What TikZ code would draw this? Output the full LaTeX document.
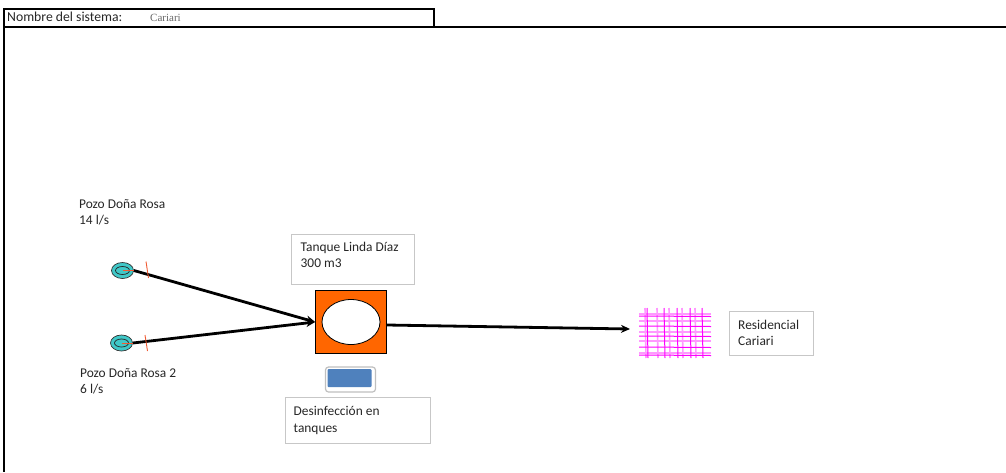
\documentclass[tikz,border=0pt]{standalone}
\usepackage{fontspec}
\setmainfont{Carlito}
\newfontfamily\serifname{Liberation Serif}
\usetikzlibrary{arrows.meta,shapes.geometric,calc}
\definecolor{wellteal}{RGB}{64,200,200}
\definecolor{tankorange}{RGB}{255,102,0}
\definecolor{tickred}{RGB}{240,90,50}
\definecolor{btnblue}{RGB}{79,129,189}
\definecolor{gridpink}{RGB}{255,0,255}
\tikzset{
  frameline/.style={draw=black,line width=2pt},
  labelbox/.style={draw=black!22,line width=1pt,fill=white},
  lbl/.style={font=\fontsize{13.4}{16.3}\selectfont,align=left,anchor=north west,inner sep=0pt,text=black!85},
  flow/.style={line width=2.8pt,-{Stealth[length=9pt,width=8pt]}},
  wellouter/.style={draw=black!80,line width=.7pt,fill=wellteal,shape=ellipse,minimum width=22pt,minimum height=16pt,inner sep=0pt},
  tick/.style={draw=tickred,line width=.9pt},
  gridline/.style={draw=gridpink,line width=1pt},
  gridsoft/.style={draw=gridpink!40,line width=1.6pt}
}
\begin{document}
\begin{tikzpicture}[x=1pt,y=-1pt]
\useasboundingbox (0,0) rectangle (1006,472);
% frame
\draw[frameline] (1006,26.5) -- (4,26.5) -- (4,472);
\draw[frameline] (4,26.5) -- (4,8.5) -- (434,8.5) -- (434,26.5);
\node[lbl,font=\fontsize{13.7}{16}\selectfont] (sys) at (7,12) {Nombre del sistema:};
\node[anchor=north west,inner sep=0pt,font=\serifname\fontsize{11}{12}\selectfont,text=black!60] (name) at (150,14) {Cariari};
% wells
\node[lbl] (w1lab) at (79,199.5) {Pozo Doña Rosa\\14 l/s};
\node[lbl] (w2lab) at (80,368) {Pozo Doña Rosa 2\\6 l/s};
\node[wellouter] (w1) at (122.5,270.5) {};
\node[wellouter] (w2) at (121.5,343) {};
% tank
\node[labelbox,minimum width=123pt,minimum height=50pt,inner sep=0pt] (tl) at (353,259.5) {};
\node[lbl] (tltext) at (300.5,241.5) {Tanque Linda Díaz\\300 m3};
\node[draw=black,line width=.8pt,fill=tankorange,minimum width=71pt,minimum height=63pt,inner sep=0pt] (tank) at (351,322) {};
\node[draw=black,line width=.8pt,fill=white,shape=ellipse,minimum width=58pt,minimum height=45pt,inner sep=0pt] (tankin) at (351,322) {};
% disinfection
\node[draw=black!25,line width=1.2pt,fill=white,rounded corners=3pt,minimum width=50pt,minimum height=25pt,inner sep=0pt] (btn) at (350.5,379.5) {};
\node[fill=btnblue,rounded corners=1pt,minimum width=44pt,minimum height=18pt,inner sep=0pt] (btnin) at (349.5,378) {};
\node[labelbox,minimum width=145pt,minimum height=46pt,inner sep=0pt] (dl) at (358,420.5) {};
\node[lbl] (dltext) at (293.5,406.5) {Desinfección en\\tanques};
% residential
\node[labelbox,minimum width=84pt,minimum height=44pt,inner sep=0pt] (rl) at (771,333) {};
\node[lbl] (rltext) at (738,319.5) {Residencial\\Cariari};
\coordinate (grid) at (639,329);
\foreach \y in {314,321,332,341,353}
  \draw[gridsoft] (639,\y) -- (711,\y);
\foreach \x in {645,657,669,682,695}
  \draw[gridsoft] (\x,308) -- (\x+1,358);
\foreach \y in {316,326,336,347,355}
  \draw[gridline] (639,\y) -- (711,\y+.5);
\foreach \x in {648,665,678,691,703}
  \draw[gridline] (\x-1,308) -- (\x,358);
% connectors
\draw[flow] (w1.east) -- (tank.west);
\draw[flow] (w2.east) -- (tank.west);
\draw[flow] ($(tank.east)+(0,3)$) -- ($(grid)+(-9,0)$);
% well detail
\draw[black!85,line width=.7pt] (w1) ellipse [x radius=7,y radius=4];
\draw[black!85,line width=.7pt] (w2) ellipse [x radius=7,y radius=4];
\draw[tick] (w1.center) -- (w1.east);
\draw[tick] (w2.center) -- (w2.east);
\draw[tick] (146,261.5) -- (148.5,278);
\draw[tick] (145,335) -- (147.5,351);
\end{tikzpicture}
\end{document}
